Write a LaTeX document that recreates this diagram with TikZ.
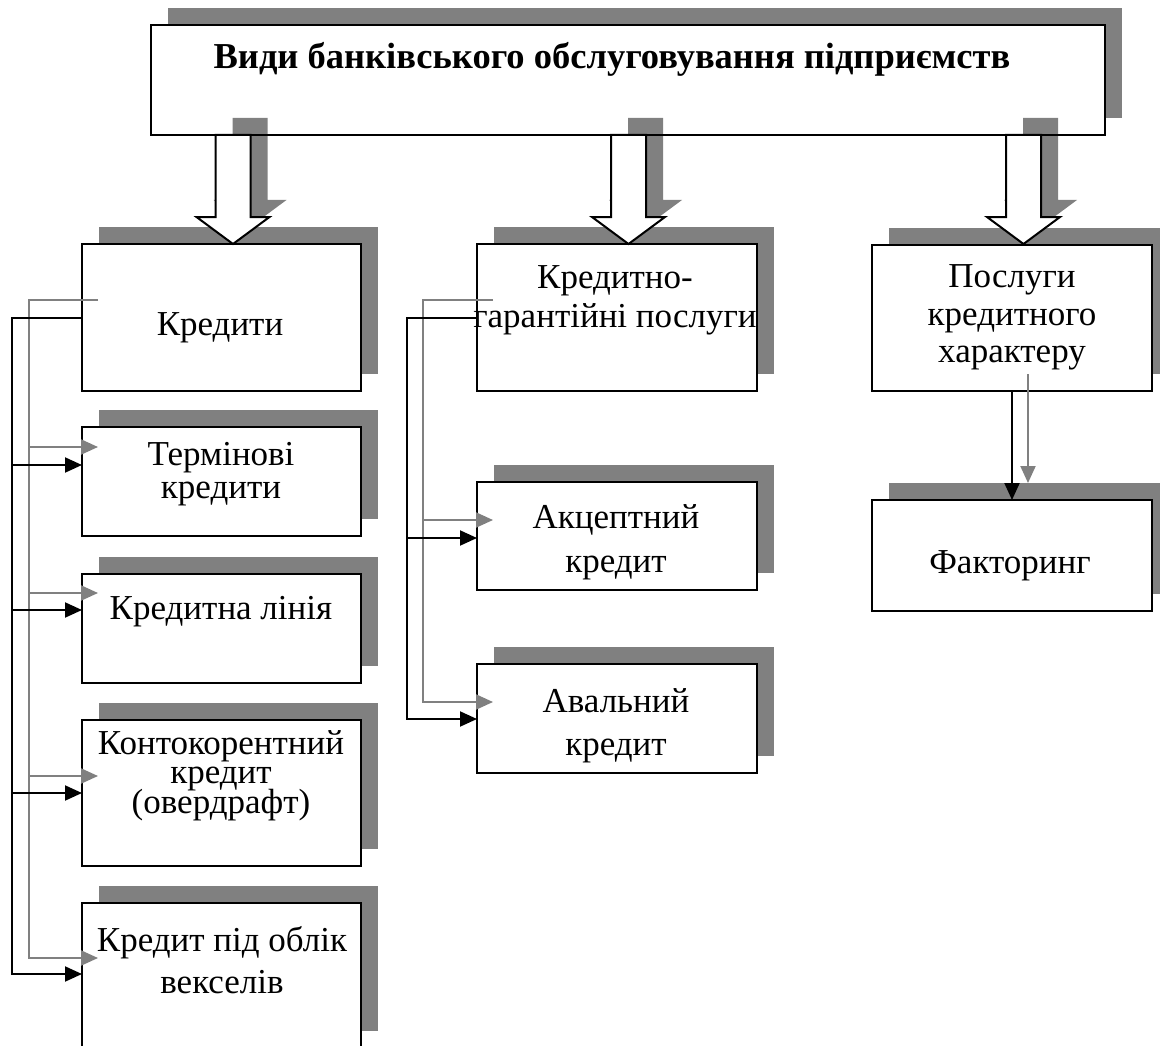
\documentclass[tikz,border=0pt]{standalone}
\usepackage{fontspec}
\setmainfont{Liberation Serif}
\usetikzlibrary{arrows.meta,calc}
\definecolor{shgray}{RGB}{128,128,128}
\tikzset{
  box/.style={draw=black, line width=2pt, fill=white, inner sep=0pt, outer sep=0pt},
  txt/.style={inner sep=0pt, outer sep=0pt, font=\fontsize{35}{40}\selectfont, anchor=base},
  ttl/.style={inner sep=0pt, outer sep=0pt, font=\bfseries\fontsize{36.5}{40}\selectfont, anchor=base},
  blk/.style={draw=black, line width=2pt},
  gry/.style={draw=shgray, line width=2pt},
  tipb/.style={-{Triangle[length=17pt,width=15pt]}},
  shd/.style={fill=shgray, draw=none},
  barrow/.style={fill=white, draw=black, line width=2pt, line join=miter},
  barrowshd/.style={fill=shgray, draw=none},
}
\newcommand\bankbox[5]{%
  \pgfmathsetmacro\bbw{#4-#2}\pgfmathsetmacro\bbh{#5-#3}%
  \fill[shd] ({#2+17},{#3-17}) rectangle ({#4+17},{#5-17});
  \node[box, minimum width=\bbw pt, minimum height=\bbh pt] (#1) at ({(#2+#4)/2},{(#3+#5)/2}) {};
}
\newcommand\bankarrow[2]{%
  \path[#2] ({#1-17.5},135) -- ({#1+17.5},135) -- ({#1+17.5},217) -- ({#1+36.5},217)
    -- (#1,244) -- ({#1-36.5},217) -- ({#1-17.5},217) -- cycle;
}
\begin{document}
\begin{tikzpicture}[x=1pt,y=-1pt]
\useasboundingbox (0,0) rectangle (1160,1046);
% boxes
\bankbox{top}{151}{25}{1105}{135}
\bankbox{kred}{82}{244}{361}{391}
\bankbox{term}{82}{427}{361}{536}
\bankbox{linia}{82}{574}{361}{683}
\bankbox{konto}{82}{720}{361}{866}
\bankbox{veks}{82}{903}{361}{1048}
\bankbox{kg}{477}{244}{757}{391}
\bankbox{akc}{477}{482}{757}{590}
\bankbox{aval}{477}{664}{757}{773}
\bankbox{posl}{872}{245}{1152}{391}
\bankbox{fakt}{872}{500}{1152}{611}
% block arrows
\begin{scope}[shift={(17,-17)}]
  \bankarrow{233}{barrowshd}
  \bankarrow{628.5}{barrowshd}
  \bankarrow{1023.5}{barrowshd}
\end{scope}
\draw[line width=2pt] (top.south west) rectangle (top.north east);
\bankarrow{233}{barrow}
\bankarrow{628.5}{barrow}
\bankarrow{1023.5}{barrow}
% connector coordinates
\coordinate (bL) at (12,0);
\coordinate (gL) at (29,0);
\coordinate (bM) at (407,0);
\coordinate (gM) at (423,0);
\coordinate (kredG) at ($(kred.west)+(16,-17.5)$);
\coordinate (termB) at ($(term.north west)+(0,38)$);
\coordinate (termG) at ($(term.north west)+(16,20)$);
\coordinate (liniaB) at ($(linia.north west)+(0,36)$);
\coordinate (liniaG) at ($(linia.north west)+(16,19)$);
\coordinate (kontoB) at ($(konto.north west)+(0,73)$);
\coordinate (kontoG) at ($(konto.north west)+(16,56)$);
\coordinate (veksB) at ($(veks.north west)+(0,71)$);
\coordinate (veksG) at ($(veks.north west)+(16,55)$);
\coordinate (kgG) at ($(kg.west)+(16,-17.5)$);
\coordinate (akcB) at ($(akc.north west)+(0,56)$);
\coordinate (akcG) at ($(akc.north west)+(16,38)$);
\coordinate (avalB) at ($(aval.north west)+(0,55)$);
\coordinate (avalG) at ($(aval.north west)+(16,38)$);
\coordinate (poslG) at ($(posl.south)+(16,-17)$);
\coordinate (faktG) at ($(fakt.north)+(16,-17)$);
% gray connectors
\draw[gry,tipb] (kredG) -| (gL |- veksG) -- (veksG);
\draw[gry,tipb] (gL |- termG) -- (termG);
\draw[gry,tipb] (gL |- liniaG) -- (liniaG);
\draw[gry,tipb] (gL |- kontoG) -- (kontoG);
\draw[gry,tipb] (kgG) -| (gM |- avalG) -- (avalG);
\draw[gry,tipb] (gM |- akcG) -- (akcG);
\draw[gry,tipb] (poslG) -- (faktG);
% black connectors
\draw[blk,tipb] (kred.west) -| (bL |- veksB) -- (veksB);
\draw[blk,tipb] (bL |- termB) -- (termB);
\draw[blk,tipb] (bL |- liniaB) -- (liniaB);
\draw[blk,tipb] (bL |- kontoB) -- (kontoB);
\draw[blk,tipb] (kg.west) -| (bM |- avalB) -- (avalB);
\draw[blk,tipb] (bM |- akcB) -- (akcB);
\draw[blk,tipb] (posl.south) -- (fakt.north);
% texts
\node[ttl] (topT) at (612,69) {Види банківського обслуговування підприємств};
\node[txt] (kredT) at (220,335) {Кредити};
\node[txt] (termT1) at (221,465) {Термінові};
\node[txt] (termT2) at (221,498) {кредити};
\node[txt] (liniaT) at (221,619) {Кредитна лінія};
\node[txt] (kontoT1) at (221,754) {Контокорентний};
\node[txt] (kontoT2) at (221,783) {кредит};
\node[txt] (kontoT3) at (221,813) {(овердрафт)};
\node[txt] (veksT1) at (222,951) {Кредит під облік};
\node[txt] (veksT2) at (222,993) {векселів};
\node[txt] (kgT1) at (615,288) {Кредитно-};
\node[txt] (kgT2) at (615,327) {гарантійні послуги};
\node[txt] (akcT1) at (616,528) {Акцептний};
\node[txt] (akcT2) at (616,572) {кредит};
\node[txt] (avalT1) at (616,712) {Авальний};
\node[txt] (avalT2) at (616,755) {кредит};
\node[txt] (poslT1) at (1012,287) {Послуги};
\node[txt] (poslT2) at (1012,325) {кредитного};
\node[txt] (poslT3) at (1012,362) {характеру};
\node[txt] (faktT) at (1010,573) {Факторинг};
\end{tikzpicture}
\end{document}
